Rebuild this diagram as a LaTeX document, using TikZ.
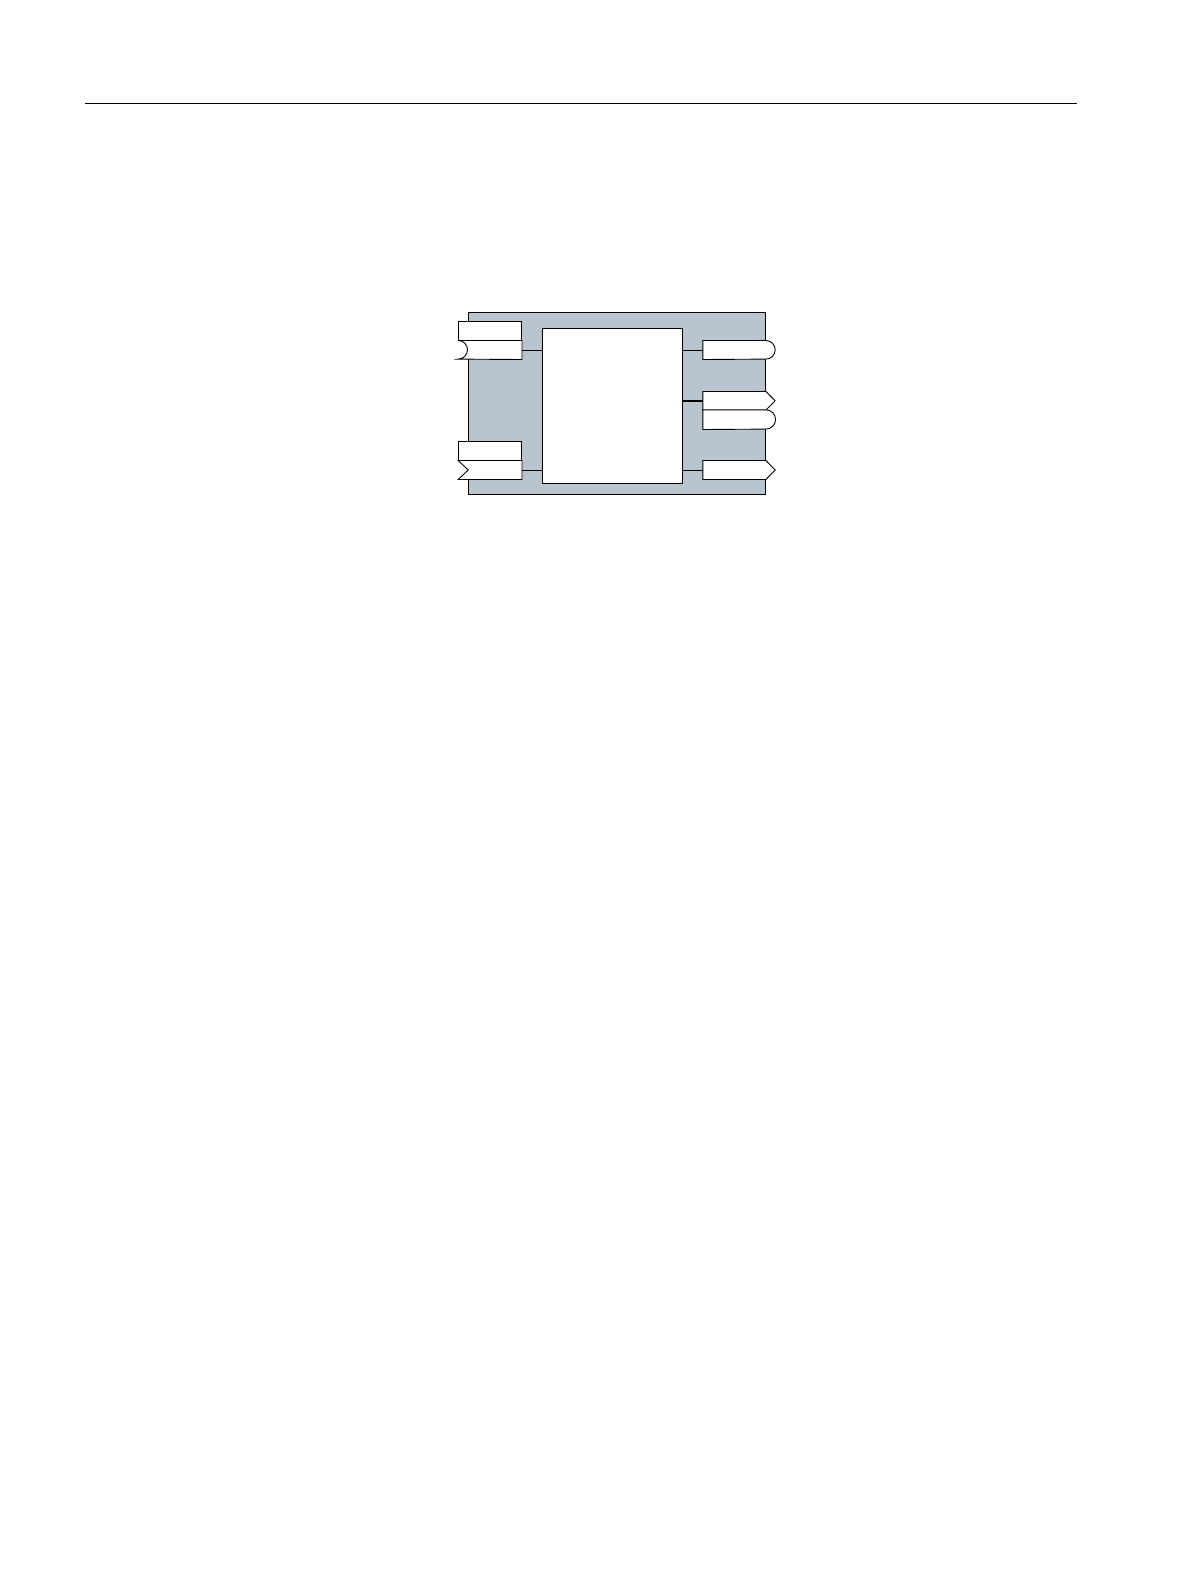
\documentclass[tikz,border=0pt]{standalone}
\usepackage{tikz}

\definecolor{frame_gray}{RGB}{184,196,206}

\begin{document}
\begin{tikzpicture}[x=1pt,y=1pt,
	frame_node/.style={rectangle,draw,fill=frame_gray,line width=0.9pt,inner sep=0pt,minimum width=297.4pt,minimum height=181.8pt},
	block_node/.style={rectangle,draw,fill=white,line width=0.9pt,inner sep=0pt,minimum width=140pt,minimum height=154.3pt},
	label_node/.style={rectangle,draw,fill=white,line width=0.9pt,inner sep=0pt,minimum width=63.4pt,minimum height=19pt},
	port_node/.style={rectangle,inner sep=0pt,minimum width=63pt,minimum height=18.6pt},
	port_line/.style={draw,fill=white,line width=0.9pt,line join=miter},
	wire/.style={line width=0.9pt}]
	\useasboundingbox (0,0) rectangle (1191,-1587);
	\draw[line width=1pt] (85,-103.3) -- (1076.7,-103.3);

	\node[frame_node] (frame) at (617,-403.6) {};
	\node[block_node] (fb) at (612.3,-405.85) {};

	\node[label_node] (lab1) at (490.1,-331.2) {};
	\node[port_node,minimum width=63.4pt] (in1) at (490.1,-350) {};
	\node[label_node] (lab2) at (490.1,-451.2) {};
	\node[port_node,minimum width=63.4pt] (in2) at (490.1,-470) {};

	\node[port_node,minimum width=62.7pt] (out1) at (734.35,-350) {};
	\node[port_node,minimum width=62.7pt,minimum height=18.3pt] (out2) at (734.35,-400.85) {};
	\node[port_node,minimum width=62.7pt,minimum height=19.3pt] (out3) at (734.35,-419.65) {};
	\node[port_node,minimum width=62.7pt] (out4) at (734.35,-470) {};

	\path[port_line] (in1.north east) -- (in1.north west) arc[start angle=90,end angle=-90,radius=9.3] -- (in1.south east) -- cycle;
	\path[port_line] (in2.north east) -- (in2.north west) -- ([xshift=10pt]in2.west) -- (in2.south west) -- (in2.south east) -- cycle;

	\path[port_line] (out1.south west) -- (out1.north west) -- (out1.north east) arc[start angle=90,end angle=-90,radius=9.3] -- cycle;
	\path[port_line] (out2.south west) -- (out2.north west) -- (out2.north east) -- ([xshift=9.3pt]out2.east) -- (out2.south east) -- cycle;
	\path[port_line] (out3.south west) -- (out3.north west) -- (out3.north east) arc[start angle=90,end angle=-90,radius=9.65] -- cycle;
	\path[port_line] (out4.south west) -- (out4.north west) -- (out4.north east) -- ([xshift=9.3pt]out4.east) -- (out4.south east) -- cycle;

	\draw[wire] (in1.east) -- (in1.east -| fb.west);
	\draw[wire] (in2.east) -- (in2.east -| fb.west);
	\draw[wire] (out1.west) -- (out1.west -| fb.east);
	\draw[wire,line width=2pt] (out2.west) -- (out2.west -| fb.east);
	\draw[wire] (out4.west) -- (out4.west -| fb.east);
\end{tikzpicture}
\end{document}
